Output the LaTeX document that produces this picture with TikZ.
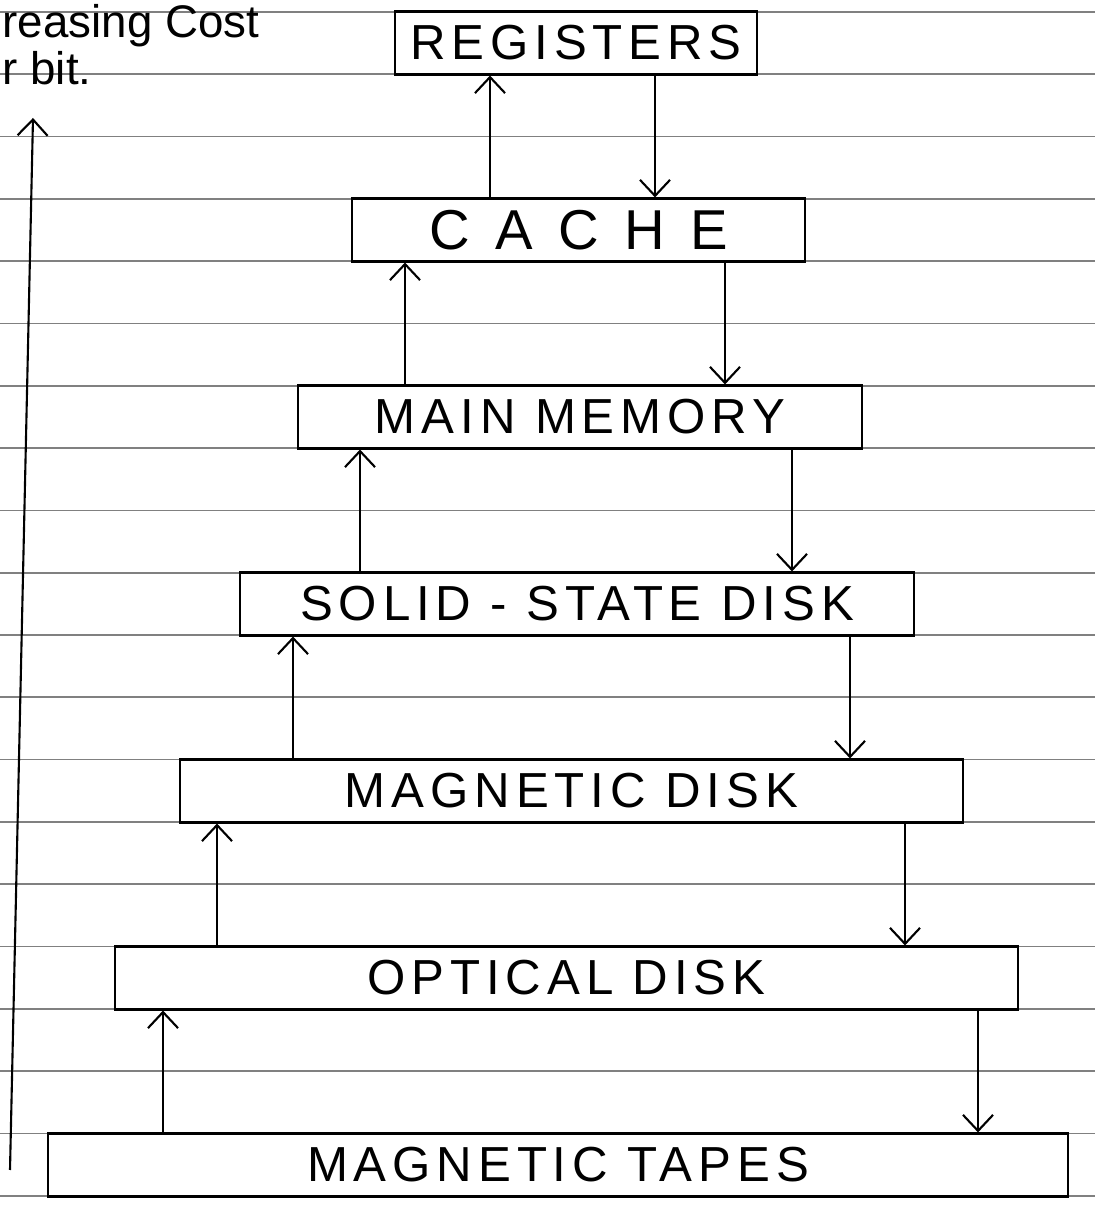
\documentclass[tikz,border=0pt]{standalone}
\usepackage{fontspec}
\setmainfont{Liberation Sans}
\newfontfamily\handfont[LetterSpace=12]{Liberation Sans}
\newfontfamily\widefont[LetterSpace=45]{Liberation Sans}
\usetikzlibrary{arrows.meta}

\begin{document}
\begin{tikzpicture}[>={Straight Barb[length=1.6mm,width=3mm]},
  level/.style={draw,thick,minimum height=0.623cm,inner sep=0pt,
    font=\handfont\fontsize{14}{16}\selectfont},
  rule/.style={black!50,line width=0.5pt}]
\useasboundingbox (0,0) rectangle (10.95,12.07);
% ruled paper
\foreach \i in {0,...,19}
  \draw[rule] (0,{11.95-0.623*\i}) -- (10.95,{11.95-0.623*\i});

% memory levels
\node[level,fill=white,minimum width=3.62cm] (reg) at (5.76,11.64) {REGISTERS};
\node[level,fill=white,minimum width=4.53cm,font=\widefont\fontsize{16}{18}\selectfont] (cache) at (5.785,9.77) {CACHE};
\node[level,fill=white,minimum width=5.64cm] (main) at (5.80,7.90) {MAIN MEMORY};
\node[level,fill=white,minimum width=6.74cm] (ssd) at (5.77,6.03) {SOLID - STATE DISK};
\node[level,fill=white,minimum width=7.83cm] (mdisk) at (5.715,4.16) {MAGNETIC DISK};
\node[level,fill=white,minimum width=9.03cm] (odisk) at (5.665,2.29) {OPTICAL DISK};
\node[level,fill=white,minimum width=10.20cm] (tapes) at (5.58,0.42) {MAGNETIC TAPES};

% up and down between levels
\draw[->,semithick] (cache.north -| 4.90,0) -- (reg.south -| 4.90,0);
\draw[->,semithick] (reg.south -| 6.55,0) -- (cache.north -| 6.55,0);
\draw[->,semithick] (main.north -| 4.05,0) -- (cache.south -| 4.05,0);
\draw[->,semithick] (cache.south -| 7.25,0) -- (main.north -| 7.25,0);
\draw[->,semithick] (ssd.north -| 3.60,0) -- (main.south -| 3.60,0);
\draw[->,semithick] (main.south -| 7.92,0) -- (ssd.north -| 7.92,0);
\draw[->,semithick] (mdisk.north -| 2.93,0) -- (ssd.south -| 2.93,0);
\draw[->,semithick] (ssd.south -| 8.50,0) -- (mdisk.north -| 8.50,0);
\draw[->,semithick] (odisk.north -| 2.17,0) -- (mdisk.south -| 2.17,0);
\draw[->,semithick] (mdisk.south -| 9.05,0) -- (odisk.north -| 9.05,0);
\draw[->,semithick] (tapes.north -| 1.63,0) -- (odisk.south -| 1.63,0);
\draw[->,semithick] (odisk.south -| 9.78,0) -- (tapes.north -| 9.78,0);

% cost per bit
\coordinate (low) at (0.10,0.37);
\coordinate (high) at (0.33,10.89);
\draw[->,semithick] (low) -- (high);
\node[anchor=base west,inner sep=0pt,font=\fontsize{13}{15}\selectfont] (costtext) at (0.02,11.69) {reasing Cost};
\node[anchor=base west,inner sep=0pt,font=\fontsize{13}{15}\selectfont] (bittext) at (0.02,11.22) {r bit.};
\end{tikzpicture}
\end{document}
